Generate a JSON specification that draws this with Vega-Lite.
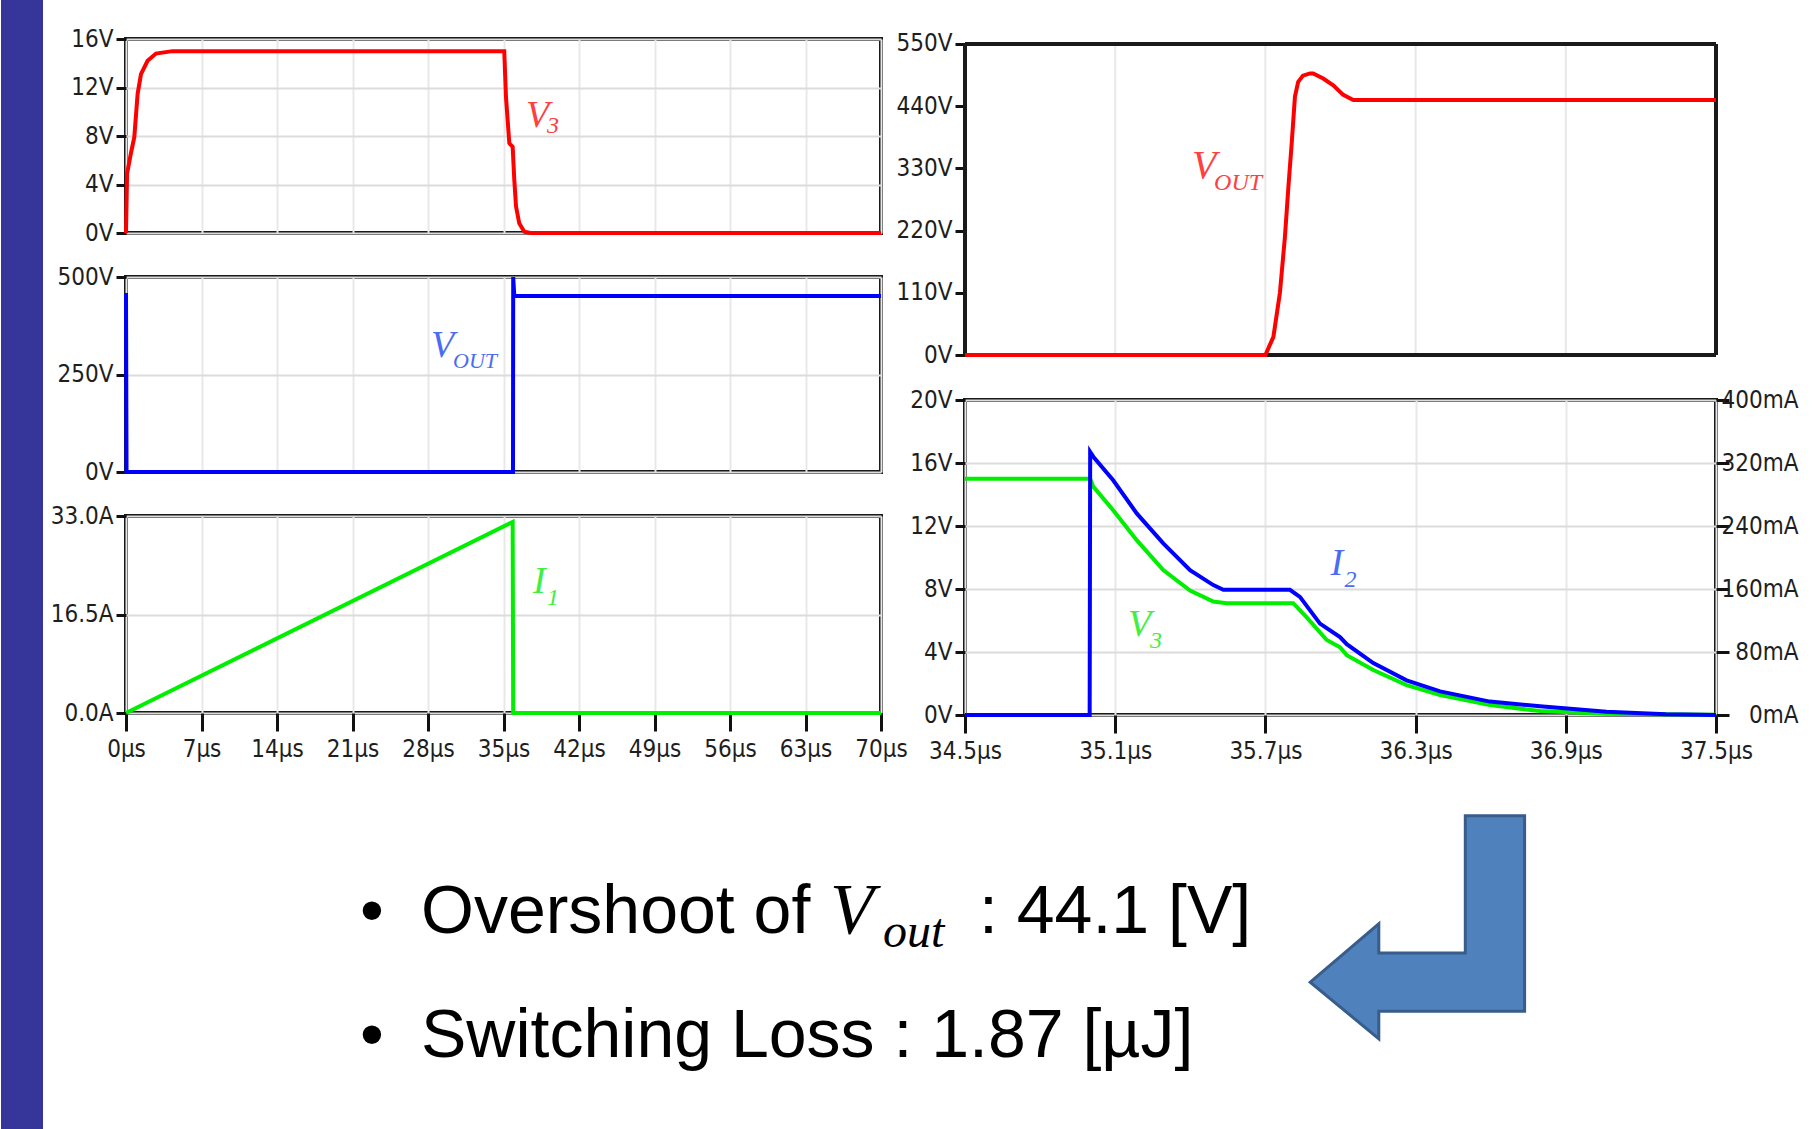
{
 "$schema": "https://vega.github.io/schema/vega-lite/v6.json",
 "padding": 0,
 "background": "white",
 "bounds": "flush",
 "spacing": 718,
 "datasets": {
  "v3a": [{"t":0,"v":0},{"t":0.1,"v":4.9},{"t":0.46,"v":6.6},{"t":0.77,"v":7.9},{"t":1.08,"v":11.5},{"t":1.39,"v":13.1},{"t":2.0,"v":14.2},{"t":2.78,"v":14.8},{"t":4.3,"v":15.0},{"t":35.07,"v":15.0},{"t":35.23,"v":11.2},{"t":35.54,"v":7.4},{"t":35.85,"v":7.1},{"t":36.0,"v":4.4},{"t":36.16,"v":2.2},{"t":36.46,"v":0.8},{"t":36.93,"v":0.1},{"t":37.5,"v":0},{"t":70,"v":0}],
  "vouta": [{"t":0,"v":459},{"t":0.05,"v":0},{"t":35.88,"v":0},{"t":35.9,"v":500},{"t":36.0,"v":451},{"t":70,"v":451}],
  "i1": [{"t":0,"v":0},{"t":35.85,"v":32},{"t":35.9,"v":0},{"t":70,"v":0}],
  "voutb": [{"t":34.5,"v":0},{"t":35.7,"v":0},{"t":35.732,"v":32},{"t":35.758,"v":110},{"t":35.778,"v":209},{"t":35.792,"v":298},{"t":35.805,"v":374},{"t":35.818,"v":457},{"t":35.831,"v":483},{"t":35.85,"v":494},{"t":35.878,"v":498},{"t":35.891,"v":498},{"t":35.931,"v":489},{"t":35.971,"v":477},{"t":36.011,"v":460},{"t":36.051,"v":451},{"t":37.5,"v":451}],
  "v3b": [{"t":34.5,"v":15},{"t":35.0,"v":15},{"t":35.0125,"v":14.5},{"t":35.092,"v":13.0},{"t":35.186,"v":11.1},{"t":35.292,"v":9.2},{"t":35.399,"v":7.9},{"t":35.492,"v":7.2},{"t":35.545,"v":7.1},{"t":35.811,"v":7.1},{"t":35.865,"v":6.2},{"t":35.945,"v":4.76},{"t":35.998,"v":4.3},{"t":36.025,"v":3.8},{"t":36.131,"v":2.86},{"t":36.264,"v":1.9},{"t":36.398,"v":1.27},{"t":36.597,"v":0.63},{"t":36.797,"v":0.25},{"t":37.063,"v":0.08},{"t":37.5,"v":0.02}],
  "i2b": [{"t":34.5,"ma":0},{"t":34.998,"ma":0},{"t":35.0,"ma":334},{"t":35.0125,"ma":328},{"t":35.092,"ma":298},{"t":35.186,"ma":256},{"t":35.292,"ma":218},{"t":35.399,"ma":184},{"t":35.492,"ma":165},{"t":35.532,"ma":159},{"t":35.798,"ma":159},{"t":35.838,"ma":150},{"t":35.918,"ma":116},{"t":35.998,"ma":99},{"t":36.025,"ma":90},{"t":36.131,"ma":66},{"t":36.264,"ma":44},{"t":36.398,"ma":30},{"t":36.597,"ma":17},{"t":36.797,"ma":11},{"t":37.063,"ma":4},{"t":37.3,"ma":1},{"t":37.5,"ma":0}]
 },
 "vconcat": [
  {
   "bounds": "full",
   "spacing": -14,
   "hconcat": [
    {
     "bounds": "flush",
     "spacing": 44,
     "vconcat": [
      {
       "width": 755, "height": 194,
       "layer": [
        {"data": {"name": "v3a"}, "mark": {"type": "line", "color": "#ff0000", "strokeWidth": 4},
         "encoding": {
          "x": {"field": "t", "type": "quantitative", "scale": {"domain": [0, 70], "nice": false, "zero": false}, "axis": {"title": null, "values": [0,7,14,21,28,35,42,49,56,63,70], "labels": false, "ticks": false, "gridColor": "#e8e8e8"}},
          "y": {"field": "v", "type": "quantitative", "scale": {"domain": [0, 16], "nice": false}, "axis": {"title": null, "values": [0,4,8,12,16], "labelExpr": "datum.value + 'V'", "tickSize": 10, "labelPadding": 3}}}},
        {"data": {"values": [{"t": 37.09, "v": 8.74, "txt": "V"}]}, "mark": {"type": "text", "font": "Liberation Serif", "fontStyle": "italic", "fontSize": 38, "align": "left", "baseline": "alphabetic", "color": "#ff4040"},
         "encoding": {"x": {"field": "t", "type": "quantitative"}, "y": {"field": "v", "type": "quantitative"}, "text": {"field": "txt"}}},
        {"data": {"values": [{"t": 39.03, "v": 8.25, "txt": "3"}]}, "mark": {"type": "text", "font": "Liberation Serif", "fontStyle": "italic", "fontSize": 24, "align": "left", "baseline": "alphabetic", "color": "#ff4040"},
         "encoding": {"x": {"field": "t", "type": "quantitative"}, "y": {"field": "v", "type": "quantitative"}, "text": {"field": "txt"}}}
       ]
      },
      {
       "width": 755, "height": 195,
       "layer": [
        {"data": {"name": "vouta"}, "mark": {"type": "line", "color": "#0000ff", "strokeWidth": 4},
         "encoding": {
          "x": {"field": "t", "type": "quantitative", "scale": {"domain": [0, 70], "nice": false, "zero": false}, "axis": {"title": null, "values": [0,7,14,21,28,35,42,49,56,63,70], "labels": false, "ticks": false, "gridColor": "#e8e8e8"}},
          "y": {"field": "v", "type": "quantitative", "scale": {"domain": [0, 500], "nice": false}, "axis": {"title": null, "values": [0,250,500], "labelExpr": "datum.value + 'V'", "tickSize": 10, "labelPadding": 3}}}},
        {"data": {"values": [{"t": 28.28, "v": 295, "txt": "V"}]}, "mark": {"type": "text", "font": "Liberation Serif", "fontStyle": "italic", "fontSize": 38, "align": "left", "baseline": "alphabetic", "color": "#4a6cf0"},
         "encoding": {"x": {"field": "t", "type": "quantitative"}, "y": {"field": "v", "type": "quantitative"}, "text": {"field": "txt"}}},
        {"data": {"values": [{"t": 30.32, "v": 267, "txt": "OUT"}]}, "mark": {"type": "text", "font": "Liberation Serif", "fontStyle": "italic", "fontSize": 22, "align": "left", "baseline": "alphabetic", "color": "#4a6cf0"},
         "encoding": {"x": {"field": "t", "type": "quantitative"}, "y": {"field": "v", "type": "quantitative"}, "text": {"field": "txt"}}}
       ]
      },
      {
       "width": 755, "height": 197,
       "layer": [
        {"data": {"name": "i1"}, "mark": {"type": "line", "color": "#00ee00", "strokeWidth": 4},
         "encoding": {
          "x": {"field": "t", "type": "quantitative", "scale": {"domain": [0, 70], "nice": false, "zero": false}, "axis": {"title": null, "values": [0,7,14,21,28,35,42,49,56,63,70], "labelExpr": "datum.value + 'µs'", "tickSize": 18, "labelPadding": 6, "gridColor": "#e8e8e8"}},
          "y": {"field": "v", "type": "quantitative", "scale": {"domain": [0, 33], "nice": false}, "axis": {"title": null, "values": [0,16.5,33], "labelExpr": "format(datum.value, '.1f') + 'A'", "tickSize": 10, "labelPadding": 3}}}},
        {"data": {"values": [{"t": 37.73, "v": 20.1, "txt": "I"}]}, "mark": {"type": "text", "font": "Liberation Serif", "fontStyle": "italic", "fontSize": 38, "align": "left", "baseline": "alphabetic", "color": "#40f040"},
         "encoding": {"x": {"field": "t", "type": "quantitative"}, "y": {"field": "v", "type": "quantitative"}, "text": {"field": "txt"}}},
        {"data": {"values": [{"t": 39.03, "v": 18.1, "txt": "1"}]}, "mark": {"type": "text", "font": "Liberation Serif", "fontStyle": "italic", "fontSize": 24, "align": "left", "baseline": "alphabetic", "color": "#40f040"},
         "encoding": {"x": {"field": "t", "type": "quantitative"}, "y": {"field": "v", "type": "quantitative"}, "text": {"field": "txt"}}}
       ]
      }
     ]
    },
    {
     "bounds": "flush",
     "spacing": 45,
     "vconcat": [
      {
       "width": 751, "height": 316,
       "view": {"stroke": null},
       "layer": [
        {"data": {"values": [{"t": 35.1},{"t": 35.7},{"t": 36.3},{"t": 36.9}]}, "mark": {"type": "rule", "color": "#e8e8e8", "strokeWidth": 2},
         "encoding": {"x": {"field": "t", "type": "quantitative"}, "y": {"datum": 0}, "y2": {"datum": 550}}},
        {"data": {"values": [{"t": 34.5},{"t": 37.5}]}, "mark": {"type": "rule", "color": "#1a1a1a", "strokeWidth": 4},
         "encoding": {"x": {"field": "t", "type": "quantitative"}, "y": {"datum": 0}, "y2": {"datum": 550}}},
        {"data": {"values": [{"v": 0},{"v": 550}]}, "mark": {"type": "rule", "color": "#1a1a1a", "strokeWidth": 4},
         "encoding": {"y": {"field": "v", "type": "quantitative"}}},
        {"data": {"name": "voutb"}, "mark": {"type": "line", "color": "#ff0000", "strokeWidth": 4},
         "encoding": {
          "x": {"field": "t", "type": "quantitative", "scale": {"domain": [34.5, 37.5], "nice": false, "zero": false}, "axis": {"title": null, "values": [34.5,35.1,35.7,36.3,36.9,37.5], "labels": false, "ticks": false, "grid": false}},
          "y": {"field": "v", "type": "quantitative", "scale": {"domain": [0, 558.8], "nice": false}, "axis": {"title": null, "values": [0,110,220,330,440,550], "labelExpr": "datum.value + 'V'", "tickSize": 10, "labelPadding": 3}}}},
        {"data": {"values": [{"t": 35.407, "v": 313, "txt": "V"}]}, "mark": {"type": "text", "font": "Liberation Serif", "fontStyle": "italic", "fontSize": 40, "align": "left", "baseline": "alphabetic", "color": "#ff4040"},
         "encoding": {"x": {"field": "t", "type": "quantitative"}, "y": {"field": "v", "type": "quantitative"}, "text": {"field": "txt"}}},
        {"data": {"values": [{"t": 35.495, "v": 292, "txt": "OUT"}]}, "mark": {"type": "text", "font": "Liberation Serif", "fontStyle": "italic", "fontSize": 24, "align": "left", "baseline": "alphabetic", "color": "#ff4040"},
         "encoding": {"x": {"field": "t", "type": "quantitative"}, "y": {"field": "v", "type": "quantitative"}, "text": {"field": "txt"}}}
       ]
      },
      {
       "width": 751, "height": 315,
       "resolve": {"scale": {"y": "independent"}},
       "layer": [
        {
         "layer": [
          {"data": {"name": "v3b"}, "mark": {"type": "line", "color": "#00ee00", "strokeWidth": 4},
           "encoding": {
            "x": {"field": "t", "type": "quantitative", "scale": {"domain": [34.5, 37.5], "nice": false, "zero": false}, "axis": {"title": null, "values": [34.5,35.1,35.7,36.3,36.9,37.5], "labelExpr": "format(datum.value, '.1f') + 'µs'", "tickSize": 18, "labelPadding": 6, "gridColor": "#e8e8e8"}},
            "y": {"field": "v", "type": "quantitative", "scale": {"domain": [0, 20], "nice": false}, "axis": {"title": null, "values": [0,4,8,12,16,20], "labelExpr": "datum.value + 'V'", "tickSize": 10, "labelPadding": 3}}}},
          {"data": {"values": [{"t": 35.151, "v": 5.02, "txt": "V"}]}, "mark": {"type": "text", "font": "Liberation Serif", "fontStyle": "italic", "fontSize": 38, "align": "left", "baseline": "alphabetic", "color": "#40f040"},
           "encoding": {"x": {"field": "t", "type": "quantitative"}, "y": {"field": "v", "type": "quantitative"}, "text": {"field": "txt"}}},
          {"data": {"values": [{"t": 35.239, "v": 4.25, "txt": "3"}]}, "mark": {"type": "text", "font": "Liberation Serif", "fontStyle": "italic", "fontSize": 24, "align": "left", "baseline": "alphabetic", "color": "#40f040"},
           "encoding": {"x": {"field": "t", "type": "quantitative"}, "y": {"field": "v", "type": "quantitative"}, "text": {"field": "txt"}}},
          {"data": {"values": [{"t": 35.96, "v": 8.9, "txt": "I"}]}, "mark": {"type": "text", "font": "Liberation Serif", "fontStyle": "italic", "fontSize": 38, "align": "left", "baseline": "alphabetic", "color": "#4a6cf0"},
           "encoding": {"x": {"field": "t", "type": "quantitative"}, "y": {"field": "v", "type": "quantitative"}, "text": {"field": "txt"}}},
          {"data": {"values": [{"t": 36.016, "v": 8.14, "txt": "2"}]}, "mark": {"type": "text", "font": "Liberation Serif", "fontStyle": "italic", "fontSize": 24, "align": "left", "baseline": "alphabetic", "color": "#4a6cf0"},
           "encoding": {"x": {"field": "t", "type": "quantitative"}, "y": {"field": "v", "type": "quantitative"}, "text": {"field": "txt"}}}
         ]
        },
        {"data": {"name": "i2b"}, "mark": {"type": "line", "color": "#0000ff", "strokeWidth": 4},
         "encoding": {
          "x": {"field": "t", "type": "quantitative"},
          "y": {"field": "ma", "type": "quantitative", "scale": {"domain": [0, 400], "nice": false}, "axis": {"title": null, "orient": "right", "grid": false, "values": [0,80,160,240,320,400], "labelExpr": "datum.value + 'mA'", "tickSize": 13, "labelAlign": "right", "labelPadding": 69}}}}
       ]
      }
     ]
    }
   ]
  },
  {
   "width": 755, "height": 300,
   "view": {"stroke": null},
   "layer": [
    {"data": {"values": [{"px": 0, "px2": 42, "py": 0, "py2": 1129}]}, "mark": {"type": "rect", "color": "#36369a"},
     "encoding": {
      "x": {"field": "px", "type": "quantitative", "scale": {"domain": [125, 880], "nice": false, "zero": false}, "axis": null},
      "x2": {"field": "px2"},
      "y": {"field": "py", "type": "quantitative", "scale": {"domain": [757, 1057], "nice": false, "zero": false, "reverse": true}, "axis": null},
      "y2": {"field": "py2"}}},
    {"data": {"values": [{"px": 1416.4, "py": 927.25}]},
     "mark": {"type": "point", "shape": "M 0.4294 -1 L 0.961 -1 L 0.961 0.7535 L -0.346 0.7535 L -0.346 1 L -0.961 0.4926 L -0.346 -0.0309 L -0.346 0.2308 L 0.4294 0.2308 Z", "size": 49774, "filled": true, "color": "#4f81bd", "fill": "#4f81bd", "stroke": "#385d8a", "strokeWidth": 3, "opacity": 1},
     "encoding": {"x": {"field": "px", "type": "quantitative"}, "y": {"field": "py", "type": "quantitative"}}},
    {"data": {"values": [{"px": 420, "py": 933, "txt": "Overshoot of"},{"px": 978, "py": 933, "txt": ": 44.1 [V]"},{"px": 420, "py": 1057, "txt": "Switching Loss : 1.87 [µJ]"}]},
     "mark": {"type": "text", "font": "Liberation Sans", "fontSize": 68, "align": "left", "baseline": "alphabetic", "color": "#000000"},
     "encoding": {"x": {"field": "px", "type": "quantitative"}, "y": {"field": "py", "type": "quantitative"}, "text": {"field": "txt"}}},
    {"data": {"values": [{"px": 371, "py": 933, "txt": "•"},{"px": 371, "py": 1057, "txt": "•"}]},
     "mark": {"type": "text", "font": "Liberation Sans", "fontSize": 68, "align": "center", "baseline": "alphabetic", "color": "#000000"},
     "encoding": {"x": {"field": "px", "type": "quantitative"}, "y": {"field": "py", "type": "quantitative"}, "text": {"field": "txt"}}},
    {"data": {"values": [{"px": 829, "py": 933, "txt": "V"}]},
     "mark": {"type": "text", "font": "Liberation Serif", "fontStyle": "italic", "fontSize": 72, "align": "left", "baseline": "alphabetic", "color": "#000000"},
     "encoding": {"x": {"field": "px", "type": "quantitative"}, "y": {"field": "py", "type": "quantitative"}, "text": {"field": "txt"}}},
    {"data": {"values": [{"px": 882, "py": 947, "txt": "out"}]},
     "mark": {"type": "text", "font": "Liberation Serif", "fontStyle": "italic", "fontSize": 48, "align": "left", "baseline": "alphabetic", "color": "#000000"},
     "encoding": {"x": {"field": "px", "type": "quantitative"}, "y": {"field": "py", "type": "quantitative"}, "text": {"field": "txt"}}}
   ]
  }
 ],
 "config": {
  "view": {"stroke": "#1a1a1a", "strokeWidth": 4},
  "axis": {"labelFont": "Liberation Sans Narrow, DejaVu Sans Condensed, Liberation Sans, sans-serif", "labelFontSize": 24, "labelColor": "#1e1e1e", "tickColor": "#111111", "tickWidth": 3, "domain": false, "gridWidth": 2, "gridColor": "#dcdcdc", "labelFlush": false, "labelOverlap": false, "labelBound": false}
 }
}
